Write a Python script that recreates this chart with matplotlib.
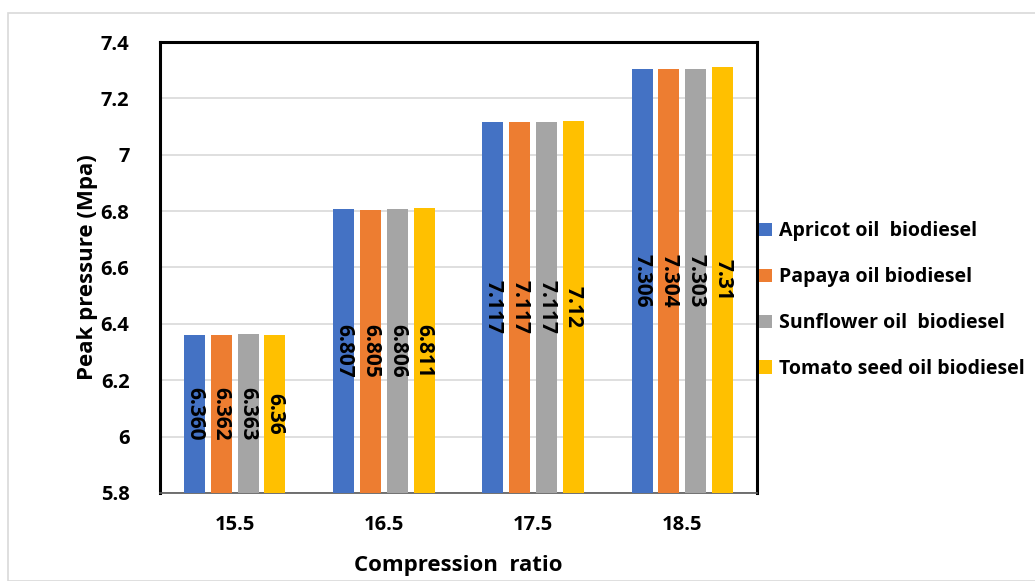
import numpy as np
import matplotlib.pyplot as plt
from matplotlib.patches import Rectangle

# Peak pressure vs compression ratio for four biodiesels
ratios = ["15.5", "16.5", "17.5", "18.5"]
series_names = ["Apricot oil  biodiesel", "Papaya oil biodiesel",
                "Sunflower oil  biodiesel", "Tomato seed oil biodiesel"]
apricot = [6.360, 6.807, 7.117, 7.306]
papaya = [6.362, 6.805, 7.117, 7.304]
sunflower = [6.363, 6.806, 7.117, 7.303]
tomato = [6.36, 6.811, 7.12, 7.31]
label_text = [["6.360", "6.807", "7.117", "7.306"],
              ["6.362", "6.805", "7.117", "7.304"],
              ["6.363", "6.806", "7.117", "7.303"],
              ["6.36", "6.811", "7.12", "7.31"]]
colors = ["#4472C4", "#ED7D31", "#A5A5A5", "#FFC000"]

plt.rcParams['font.family'] = ['Open Sans', 'DejaVu Sans']

fig = plt.figure(figsize=(10.35, 5.81), dpi=100)
fig.patches.append(Rectangle((8 / 1035, 0), 1.0, 1 - 13 / 581, transform=fig.transFigure,
                             fill=False, edgecolor="#D9D9D9", linewidth=1.2))
ax = fig.add_axes([0.1546, 0.1515, 0.5768, 0.7762])

ymin = 5.8
x = np.arange(len(ratios))
pitch = 0.18
width = 0.14
handles = []
for i, vals in enumerate([apricot, papaya, sunflower, tomato]):
    pos = x + (i - 1.5) * pitch
    heights = np.array(vals) - ymin
    bars = ax.bar(pos, heights, width, bottom=ymin, color=colors[i], zorder=3,
                  label=series_names[i])
    handles.append(bars)
    for p, v, t in zip(pos, vals, label_text[i]):
        ax.text(p, (v + ymin) / 2, t, rotation=-90, ha="center", va="center",
                fontsize=15, fontweight="bold", zorder=4)

ax.set_ylim(5.8, 7.4)
ax.set_xlim(-0.5, 3.5)
ax.set_yticks(np.arange(5.8, 7.41, 0.2))
ax.set_yticklabels(["5.8", "6", "6.2", "6.4", "6.6", "6.8", "7", "7.2", "7.4"])
ax.set_xticks(x)
ax.set_xticklabels(ratios)
ax.tick_params(length=0, labelsize=14.5)
for lbl in ax.get_xticklabels() + ax.get_yticklabels():
    lbl.set_fontweight("bold")
ax.tick_params(axis="x", pad=16)
ax.tick_params(axis="y", pad=22)
ax.yaxis.grid(True, color="#D9D9D9", linewidth=1.2, zorder=0)
ax.set_axisbelow(True)
for side in ["left", "top", "right"]:
    ax.spines[side].set_linewidth(2.2)
    ax.spines[side].set_color("black")
ax.spines["bottom"].set_color("#595959")
ax.spines["bottom"].set_linewidth(1.2)

ax.set_xlabel("Compression  ratio", fontsize=16, fontweight="bold", labelpad=14)
ax.set_ylabel("Peak pressure (Mpa)", fontsize=16, fontweight="bold", labelpad=2)

fig.legend(handles=handles, loc="center left", bbox_to_anchor=(0.716, 0.4836),
           frameon=False, prop={"weight": "bold", "size": 14},
           handlelength=0.67, handleheight=0.67, handletextpad=0.36, labelspacing=1.33)

fig.savefig("out.png", dpi=100)
